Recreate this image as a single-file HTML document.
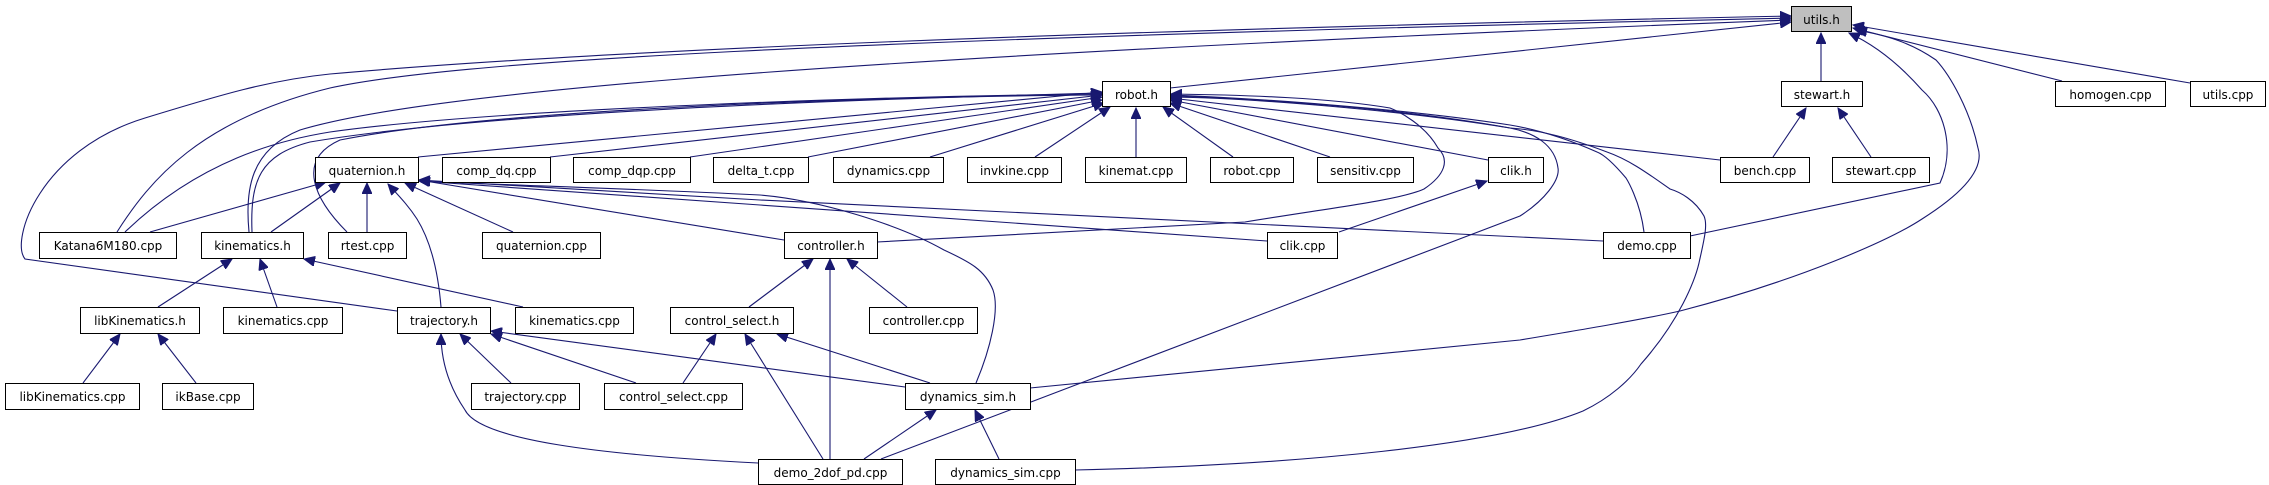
<!DOCTYPE html>
<html><head><meta charset="utf-8"><style>
html,body{margin:0;padding:0;background:#fff;}
svg{display:block;}
text{font-family:"DejaVu Sans","Liberation Sans",sans-serif;font-size:12px;fill:#000;}
.n{fill:#fff;stroke:#000;stroke-width:1;}
.e{fill:none;stroke:#191970;stroke-width:1.1;}
</style></head><body>
<svg width="2269" height="485" viewBox="0 0 2269 485" xmlns="http://www.w3.org/2000/svg">
<defs>
<marker id="a" markerUnits="userSpaceOnUse" markerWidth="12" markerHeight="10" refX="11" refY="5" orient="auto">
<path d="M0,0 L11,5 L0,10 z" fill="#191970" stroke="#191970"/>
</marker>
</defs>
<g class="e" marker-end="url(#a)">
<!-- to utils.h -->
<path d="M1170,88 L1791,22"/>
<path d="M1821,81 L1821,33"/>
<path d="M2062,81 L1853,28"/>
<path d="M2190,83 L1853,25"/>
<path d="M117,232 C150,180 200,120 330,88 C450,62 800,40 1791,18"/>
<path d="M249,232 C245,190 250,150 300,130 C400,100 700,62 1791,20"/>
<path d="M397,311 L25,259 C10,240 40,150 145,118 C220,95 270,80 330,74 C600,50 1100,30 1791,16"/>
<path d="M1690,236 L1940,183 C1955,150 1945,110 1922,90 C1900,65 1875,45 1849,33"/>
<path d="M1030,388 L1520,340 C1580,330 1640,320 1680,311 C1800,280 1890,240 1922,219 C1960,195 1985,170 1978,148 C1970,110 1950,75 1936,60 C1910,42 1885,35 1856,30"/>
<!-- to robot.h -->
<path d="M418,157 L1102,92"/>
<path d="M550,157 L1102,95"/>
<path d="M690,157 L1102,97"/>
<path d="M808,157 L1102,100"/>
<path d="M930,157 L1104,103"/>
<path d="M1035,157 L1110,107"/>
<path d="M1136,157 L1136,108"/>
<path d="M1233,157 L1163,107"/>
<path d="M1330,157 L1170,103"/>
<path d="M1488,160 L1170,100"/>
<path d="M1720,160 L1170,98"/>
<path d="M125,232 C200,160 280,140 330,132 C500,108 900,96 1102,94"/>
<path d="M252,232 C250,180 260,155 310,142 C500,110 900,98 1102,93"/>
<path d="M347,232 C315,200 295,160 340,140 C500,108 900,96 1102,95"/>
<path d="M1644,232 C1640,200 1626,178 1626,178 C1615,165 1605,155 1597,152 C1570,140 1540,130 1510,125 C1400,108 1250,98 1171,95"/>
<path d="M877,242 L1245,222 C1330,208 1400,200 1424,189 C1445,175 1450,160 1438,148 C1425,125 1400,112 1390,108 C1330,98 1250,95 1171,94"/>
<path d="M881,459 L1520,216 C1545,200 1560,180 1558,168 C1555,145 1535,133 1510,128 C1400,108 1250,98 1171,96"/>
<path d="M1075,470 C1300,465 1500,445 1583,411 C1610,398 1630,380 1641,364 C1680,320 1695,280 1699,263 C1704,240 1708,225 1704,216 C1695,200 1680,192 1670,189 C1650,175 1630,160 1607,152 C1570,138 1540,130 1510,128 C1400,110 1250,98 1171,97"/>
<!-- to quaternion.h -->
<path d="M150,232 L326,182"/>
<path d="M271,232 L340,183"/>
<path d="M367,232 L367,183"/>
<path d="M513,232 L405,183"/>
<path d="M441,307 C438,270 430,240 417,219 C408,205 398,195 388,184"/>
<path d="M784,240 L419,180"/>
<path d="M1267,241 L760,205 L419,181"/>
<path d="M1603,241 L1520,237 L760,200 L419,180"/>
<path d="M976,383 C990,350 1000,310 993,290 C985,270 970,262 944,250 C900,225 820,200 760,195 C620,188 500,185 419,181"/>
<!-- to kinematics.h -->
<path d="M158,307 L232,259"/>
<path d="M277,307 L260,259"/>
<path d="M523,307 L304,259"/>
<!-- to libKinematics.h -->
<path d="M83,383 L120,334"/>
<path d="M196,383 L158,334"/>
<!-- to trajectory.h -->
<path d="M511,383 L460,334"/>
<path d="M636,383 L491,334"/>
<path d="M905,387 L491,331"/>
<path d="M758,463 C600,455 480,440 465,410 C448,385 441,360 441,334"/>
<!-- to controller.h -->
<path d="M749,307 L813,259"/>
<path d="M830,459 L830,259"/>
<path d="M907,307 L847,259"/>
<!-- to control_select.h -->
<path d="M683,383 L716,334"/>
<path d="M930,383 L777,334"/>
<path d="M823,459 L745,334"/>
<!-- clik.h -->
<path d="M1339,232 L1487,181"/>
<!-- stewart.h -->
<path d="M1773,157 L1806,108"/>
<path d="M1871,157 L1838,108"/>
<!-- dynamics_sim.h -->
<path d="M864,459 L936,410"/>
<path d="M999,459 L975,410"/>
</g>
<g>
<rect x="1791.5" y="6.5" width="60" height="25" fill="#bfbfbf" stroke="#000"/><text x="1821.5" y="24" text-anchor="middle">utils.h</text>
<rect class="n" x="1102.5" y="81.5" width="68" height="25"/><text x="1136.5" y="99" text-anchor="middle">robot.h</text>
<rect class="n" x="1781.5" y="81.5" width="81" height="25"/><text x="1822" y="99" text-anchor="middle">stewart.h</text>
<rect class="n" x="2055.5" y="81.5" width="110" height="25"/><text x="2110.5" y="99" text-anchor="middle">homogen.cpp</text>
<rect class="n" x="2190.5" y="81.5" width="75" height="25"/><text x="2228" y="99" text-anchor="middle">utils.cpp</text>

<rect class="n" x="315.5" y="157.5" width="103" height="25"/><text x="367" y="175" text-anchor="middle">quaternion.h</text>
<rect class="n" x="442.5" y="157.5" width="108" height="25"/><text x="496.5" y="175" text-anchor="middle">comp_dq.cpp</text>
<rect class="n" x="573.5" y="157.5" width="117" height="25"/><text x="632" y="175" text-anchor="middle">comp_dqp.cpp</text>
<rect class="n" x="713.5" y="157.5" width="95" height="25"/><text x="761" y="175" text-anchor="middle">delta_t.cpp</text>
<rect class="n" x="833.5" y="157.5" width="110" height="25"/><text x="888.5" y="175" text-anchor="middle">dynamics.cpp</text>
<rect class="n" x="967.5" y="157.5" width="94" height="25"/><text x="1014.5" y="175" text-anchor="middle">invkine.cpp</text>
<rect class="n" x="1085.5" y="157.5" width="101" height="25"/><text x="1136" y="175" text-anchor="middle">kinemat.cpp</text>
<rect class="n" x="1210.5" y="157.5" width="83" height="25"/><text x="1252" y="175" text-anchor="middle">robot.cpp</text>
<rect class="n" x="1317.5" y="157.5" width="96" height="25"/><text x="1365.5" y="175" text-anchor="middle">sensitiv.cpp</text>
<rect class="n" x="1488.5" y="157.5" width="55" height="25"/><text x="1516" y="175" text-anchor="middle">clik.h</text>
<rect class="n" x="1720.5" y="157.5" width="89" height="25"/><text x="1765" y="175" text-anchor="middle">bench.cpp</text>
<rect class="n" x="1832.5" y="157.5" width="97" height="25"/><text x="1881" y="175" text-anchor="middle">stewart.cpp</text>

<rect class="n" x="39.5" y="232.5" width="137" height="26"/><text x="108" y="250" text-anchor="middle">Katana6M180.cpp</text>
<rect class="n" x="201.5" y="232.5" width="102" height="26"/><text x="252.5" y="250" text-anchor="middle">kinematics.h</text>
<rect class="n" x="328.5" y="232.5" width="78" height="26"/><text x="367.5" y="250" text-anchor="middle">rtest.cpp</text>
<rect class="n" x="482.5" y="232.5" width="118" height="26"/><text x="541.5" y="250" text-anchor="middle">quaternion.cpp</text>
<rect class="n" x="784.5" y="232.5" width="93" height="26"/><text x="831" y="250" text-anchor="middle">controller.h</text>
<rect class="n" x="1267.5" y="232.5" width="70" height="26"/><text x="1302.5" y="250" text-anchor="middle">clik.cpp</text>
<rect class="n" x="1603.5" y="232.5" width="87" height="26"/><text x="1647" y="250" text-anchor="middle">demo.cpp</text>

<rect class="n" x="80.5" y="307.5" width="119" height="26"/><text x="140" y="325" text-anchor="middle">libKinematics.h</text>
<rect class="n" x="223.5" y="307.5" width="119" height="26"/><text x="283" y="325" text-anchor="middle">kinematics.cpp</text>
<rect class="n" x="397.5" y="307.5" width="93" height="26"/><text x="444" y="325" text-anchor="middle">trajectory.h</text>
<rect class="n" x="515.5" y="307.5" width="118" height="26"/><text x="574.5" y="325" text-anchor="middle">kinematics.cpp</text>
<rect class="n" x="670.5" y="307.5" width="123" height="26"/><text x="732" y="325" text-anchor="middle">control_select.h</text>
<rect class="n" x="869.5" y="307.5" width="108" height="26"/><text x="923.5" y="325" text-anchor="middle">controller.cpp</text>

<rect class="n" x="5.5" y="383.5" width="134" height="26"/><text x="72.5" y="401" text-anchor="middle">libKinematics.cpp</text>
<rect class="n" x="162.5" y="383.5" width="91" height="26"/><text x="208" y="401" text-anchor="middle">ikBase.cpp</text>
<rect class="n" x="471.5" y="383.5" width="108" height="26"/><text x="525.5" y="401" text-anchor="middle">trajectory.cpp</text>
<rect class="n" x="604.5" y="383.5" width="138" height="26"/><text x="673.5" y="401" text-anchor="middle">control_select.cpp</text>
<rect class="n" x="905.5" y="383.5" width="125" height="26"/><text x="968" y="401" text-anchor="middle">dynamics_sim.h</text>

<rect class="n" x="758.5" y="459.5" width="144" height="25"/><text x="830.5" y="477" text-anchor="middle">demo_2dof_pd.cpp</text>
<rect class="n" x="935.5" y="459.5" width="140" height="25"/><text x="1005.5" y="477" text-anchor="middle">dynamics_sim.cpp</text>
</g>
</svg>
</body></html>
